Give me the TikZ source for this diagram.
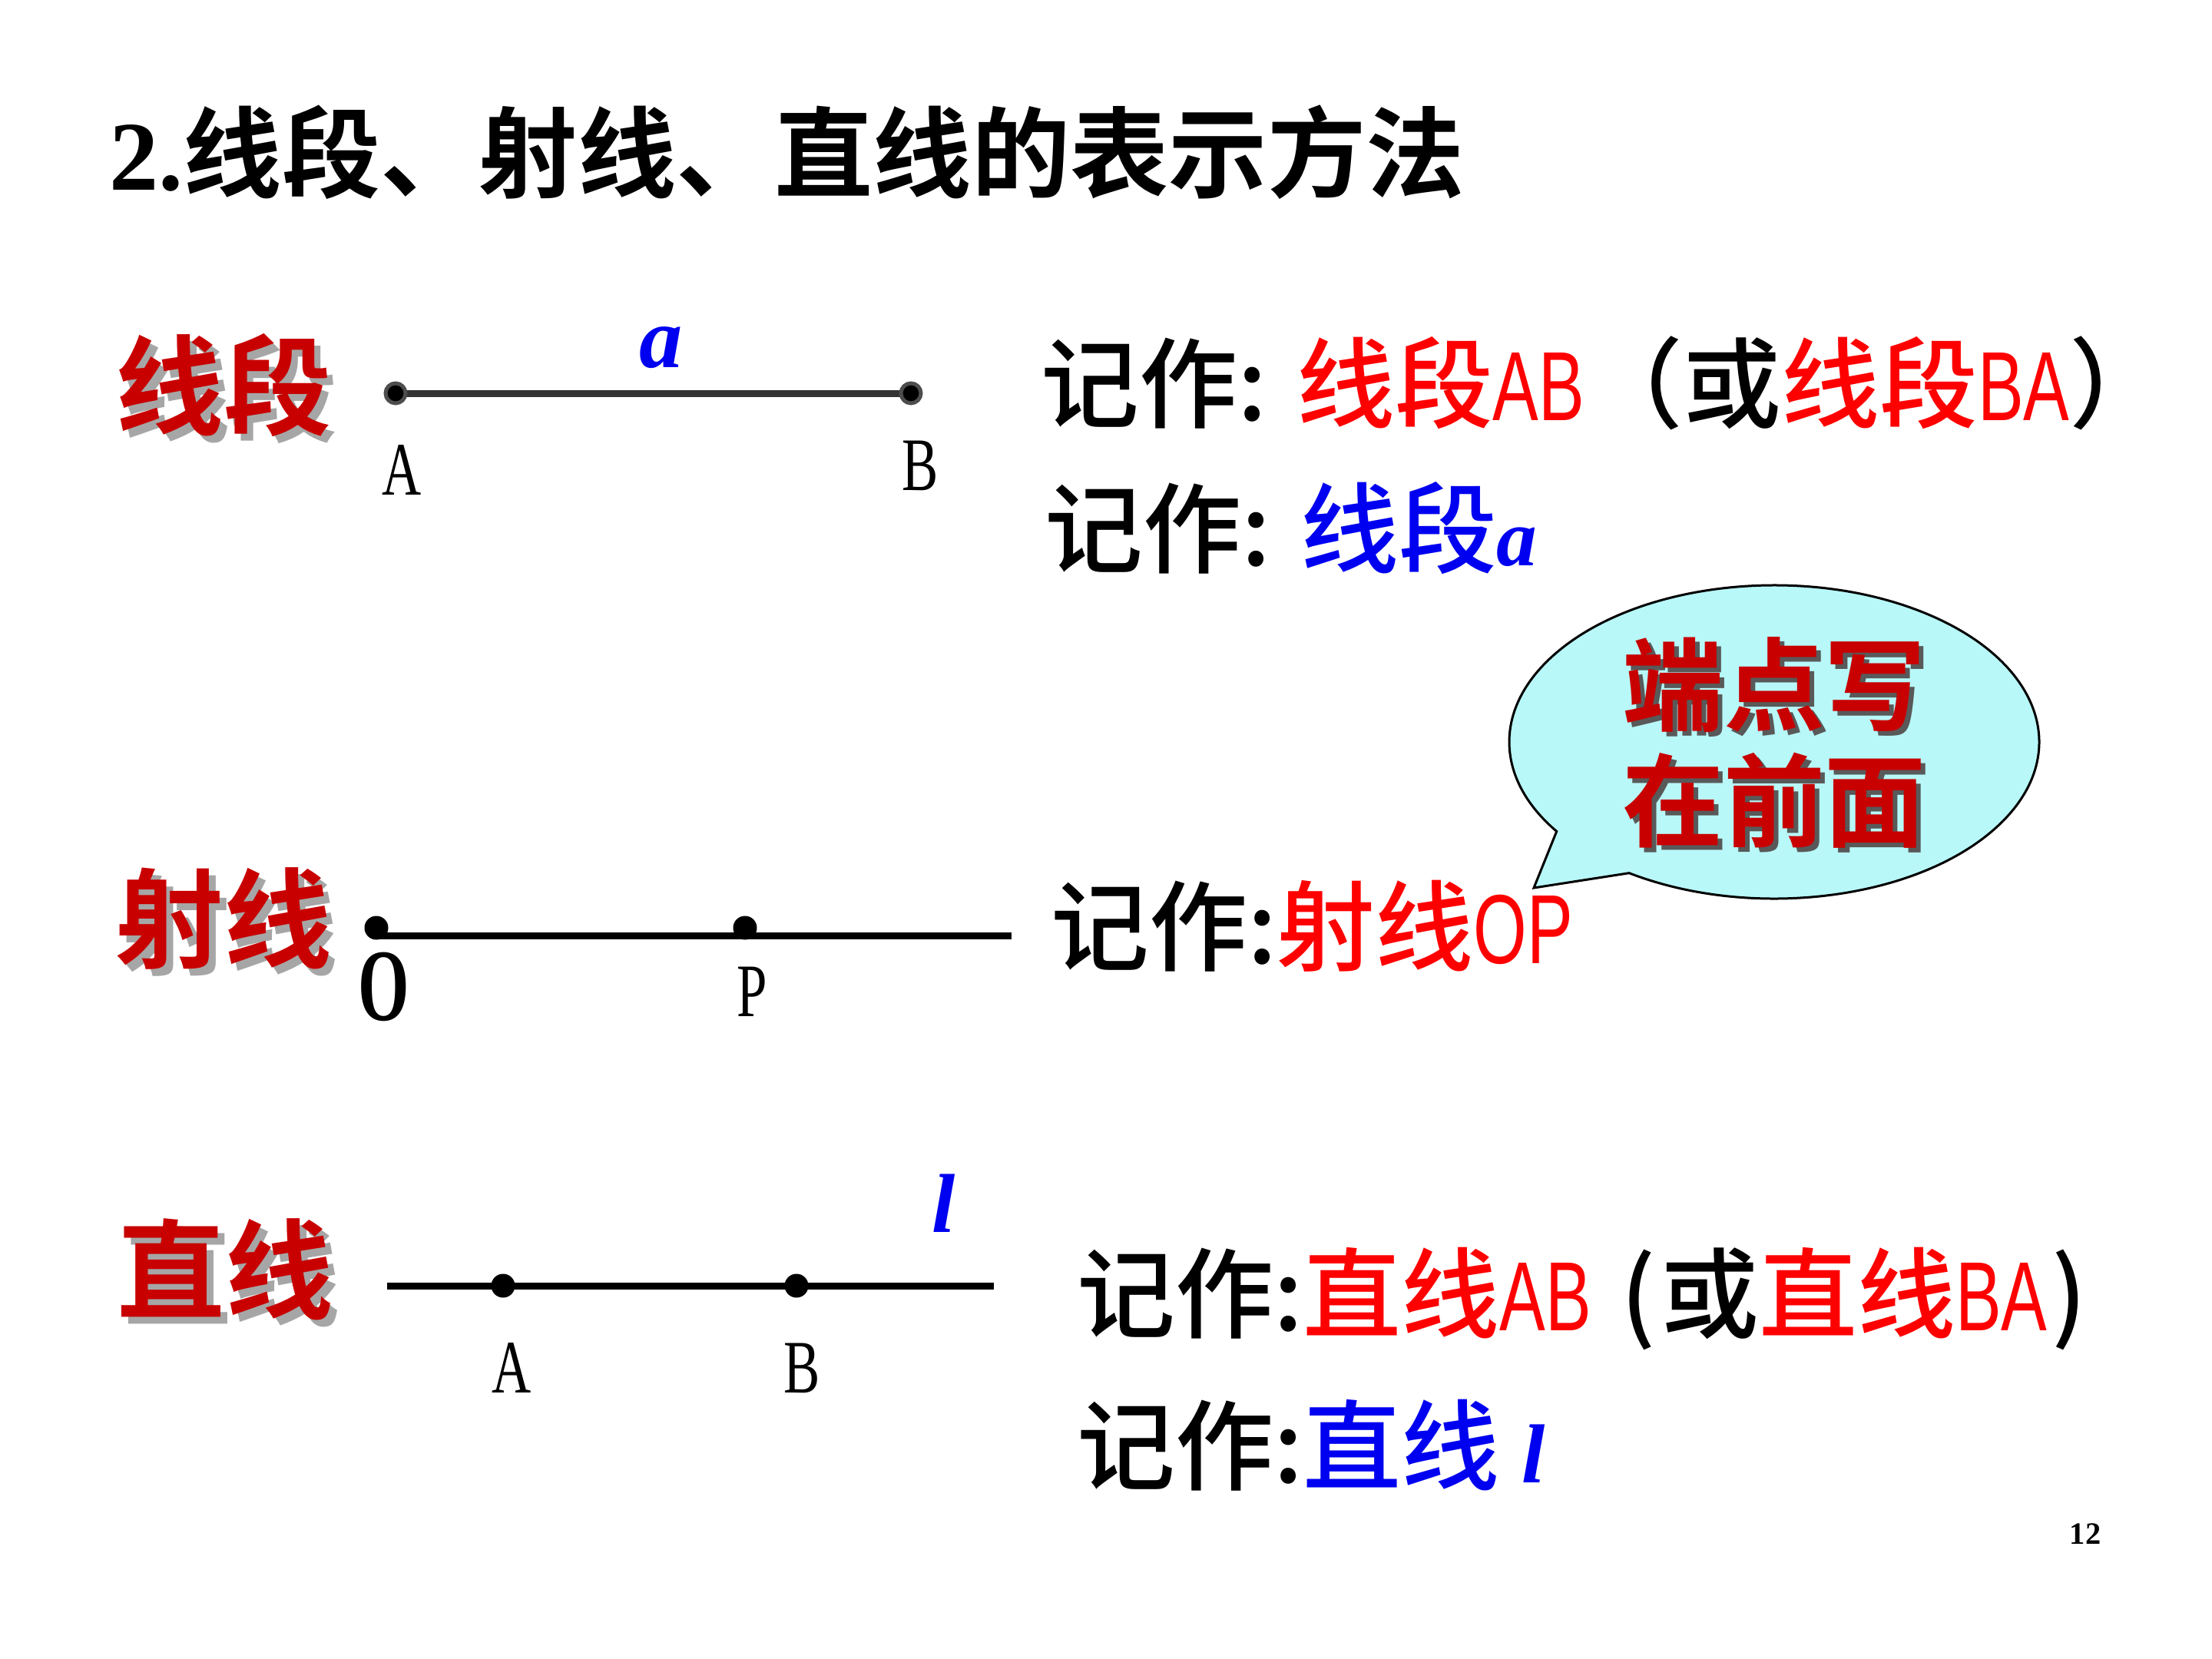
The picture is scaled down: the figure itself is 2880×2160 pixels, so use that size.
\documentclass[tikz,border=0pt]{standalone}
\usepackage{fontspec}
\setmainfont{Liberation Serif}
\newfontfamily\cjk[BoldFont={Noto Sans CJK SC Bold}]{Noto Sans CJK SC}
\newfontfamily\cjkm{Noto Sans CJK SC Medium}
\newfontfamily\tnr{Liberation Serif}
\newfontfamily\ptfont[FakeStretch=0.72]{Liberation Serif}
\newfontfamily\ptfontO[FakeStretch=0.64]{Liberation Serif}
\newfontfamily\latc[FakeStretch=0.7]{Liberation Sans}
\definecolor{kindRed}{HTML}{C80000}
\definecolor{kindShade}{HTML}{A6A6A6}
\definecolor{noteRed}{HTML}{FF0000}
\definecolor{noteBlue}{HTML}{0000F0}
\definecolor{bubbleFill}{HTML}{B8F8F8}
\definecolor{segGray}{HTML}{333333}
\definecolor{ringGray}{HTML}{4D4D4D}
\tikzset{
  slide/.style = {x=0.1mm, y=0.1mm},
  headline/.style = {
    anchor=west, inner sep=0pt,
    font=\cjk\bfseries\fontsize{36.5pt}{40pt}\selectfont,
  },
  note/.style = {
    anchor=west, inner sep=0pt,
    font=\cjkm\fontsize{36.4pt}{40pt}\selectfont,
  },
  kind/.style = {
    inner sep=0pt, text=kindRed,
    font=\cjk\bfseries\fontsize{40pt}{44pt}\selectfont,
  },
  kindshade/.style = {kind, text=kindShade},
  tip/.style = {
    inner sep=0pt, align=center, text=kindRed,
    font=\cjk\bfseries\fontsize{37.5pt}{43pt}\selectfont,
  },
  tipshade/.style = {tip, text=black!65},
  ptname/.style = {inner sep=0pt, font=\ptfont\fontsize{28pt}{30pt}\selectfont},
  varname/.style = {
    inner sep=0pt, text=noteBlue,
    font=\tnr\bfseries\itshape\fontsize{32pt}{34pt}\selectfont,
  },
  ptdot/.style = {circle, fill=black, inner sep=0pt, minimum size=3.1mm},
  ringdot/.style = {ptdot, draw=ringGray, line width=0.5mm, minimum size=2.6mm},
  segline/.style = {draw=segGray, line width=0.9mm},
  rayline/.style = {draw=black, line width=0.9mm},
  bubble/.style = {draw=black, line width=0.3mm, fill=bubbleFill},
}

\begin{document}
\begin{tikzpicture}[slide]

\fill[white] (0,0) rectangle (2880,-2160);
\useasboundingbox (0,0) rectangle (2880,-2160);

\node[headline] (title) at (142,-198) {{\tnr 2.}线段、射线、直线的表示方法};

% left headings with shadow
\node[kindshade] (segKs) at (300,-511)  {线段};
\node[kind]      (segK)  at (291,-502)  {线段};
\node[kindshade] (rayKs) at (300,-1205) {射线};
\node[kind]      (rayK)  at (291,-1196) {射线};
\node[kindshade] (linKs) at (302,-1662) {直线};
\node[kind]      (linK)  at (293,-1653) {直线};

% segment
\coordinate (sA) at (515,-512);
\coordinate (sB) at (1186,-512);
\draw[segline] (sA) -- (sB);
\node[ringdot] (sAdot) at (sA) {};
\node[ringdot] (sBdot) at (sB) {};
\node[ptname]  (sAlbl) at (523,-612)  {A};
\node[ptname]  (sBlbl) at (1198,-606) {B};
\node[varname] (sVar)  at (861,-453)  {a};

% ray
\coordinate (rO)   at (490,-1218);
\coordinate (rP)   at (970,-1218);
\coordinate (rEnd) at (1317,-1218);
\draw[rayline] (rO) -- (rEnd);
\node[ptdot] (rOdot) at ([yshift=1mm]rO) {};
\node[ptdot] (rPdot) at ([yshift=1mm]rP) {};
\node[ptname, font=\ptfontO\bfseries\fontsize{38pt}{40pt}\selectfont] (rOlbl) at (500,-1285) {O};
\node[ptname]  (rPlbl) at (979,-1291) {P};

% line
\coordinate (lStart) at (504,-1674);
\coordinate (lA)     at (655,-1674);
\coordinate (lB)     at (1037,-1674);
\coordinate (lEnd)   at (1294,-1674);
\draw[rayline] (lStart) -- (lEnd);
\node[ptdot] (lAdot) at (lA) {};
\node[ptdot] (lBdot) at (lB) {};
\node[ptname]  (lAlbl) at (666,-1781)  {A};
\node[ptname]  (lBlbl) at (1044,-1781) {B};
\node[varname, font=\tnr\bfseries\itshape\fontsize{31pt}{34pt}\selectfont] (lVar) at (1229,-1567) {l};

% notation
\node[note] (n1) at (1355,-499)
  {记作:\hspace{0.3em}{\color{noteRed}线段{\latc AB}}（或{\color{noteRed}线段{\latc BA}}）};
\node[note] (n2) at (1360,-688)
  {记作:\hspace{0.3em}{\color{noteBlue}线段{\tnr\bfseries\itshape\fontsize{30pt}{34pt}\selectfont a}}};
\node[note] (n3) at (1368,-1206) {记作:{\color{noteRed}射线{\latc OP}}};
\node[note] (n4) at (1402,-1691)
  {记作:{\color{noteRed}直线{\latc AB}}\hspace{0.3em}(\hspace{0.05em}或{\color{noteRed}直线{\latc BA}}\hspace{0.05em})};
\node[note] (n5) at (1402,-1882)
  {记作:{\color{noteBlue}直线\ {\tnr\bfseries\itshape\fontsize{31pt}{34pt}\selectfont l}}};

% callout
\coordinate (bc)   at (2310,-966);
\coordinate (btip) at (1997,-1156);
\draw[bubble] (bc) ++(236.8:345 and 204)
  arc[start angle=236.8, end angle=574.8, x radius=345, y radius=204]
  -- (btip) -- cycle;
\node[tipshade] (tipS) at (2316,-973) {端点写\\在前面};
\node[tip]      (tipT) at (2310,-967) {端点写\\在前面};

\node[inner sep=0pt, font=\tnr\bfseries\fontsize{11.5pt}{13pt}\selectfont] (pgnum) at (2715,-1997) {12};

\end{tikzpicture}
\end{document}
